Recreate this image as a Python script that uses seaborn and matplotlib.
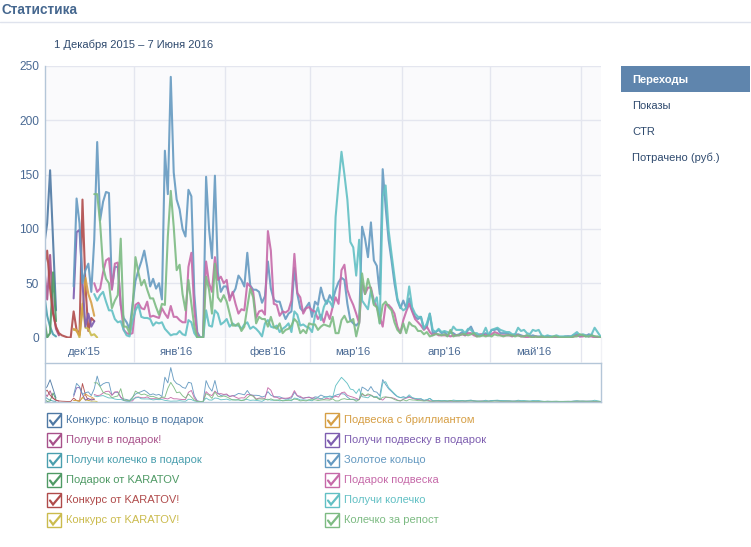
"""
Ad statistics dashboard: daily clicks per campaign, with overview strip and legend.
"""

import pandas as pd
import matplotlib
matplotlib.use("Agg")
import matplotlib.pyplot as plt
import seaborn as sns
from matplotlib.patches import Rectangle

# first value of each list falls on the day given in SERIES (0 = 1 Dec 2015)
KOLTSO = [85, 105, 154, 90, 25]
POLUCHI_PODAROK = [65, 35, 76, 25, 8, 2]
KOLECHKO_PODAROK = [40, 20, 10, 3, 1]
KARATOV_GIFT = [18, 0, 4, 60, 15]
KARATOV_RED = [65, 80, 45, 22, 10, 4, 2, 1, 0, 0, 24, 7, 3, 127, 48, 6, 18, 15]
KARATOV_YELLOW = [7, 7, 0, 31, 9, 8, 2, 3, 0]
PODVESKA_BRILL = [8, 6, 2, 25, 55, 40, 32, 20]
PODVESKA_GIFT = [36, 97, 99, 50, 10, 22, 10, 15]

ZOLOTOE = [
    47, 128, 105, 50, 62, 68, 42, 90, 180, 108,
    125, 134, 133, 45, 65, 65, 30, 18, 14, 8,
    30, 52, 62, 70, 80, 65, 47, 54, 45, 50,
    35, 172, 132, 240, 152, 127, 118, 100, 93, 136,
    130, 40, 5, 0, 0, 148, 100, 73, 149, 60,
    42, 47, 47, 37, 40, 45, 57, 53, 47, 78,
    48, 44, 44, 42, 32, 38, 70, 45, 35, 33,
    33, 24, 17, 22, 24, 64, 40, 27, 24, 28,
    32, 19, 33, 30, 46, 36, 31, 39, 34, 44,
    51, 55, 53, 31, 16, 13, 11, 14, 102, 91,
    74, 106, 71, 66, 40, 155, 120, 90, 71, 50,
    34, 27, 34, 27, 36, 25, 19, 17, 19, 8,
    10, 22, 4, 5, 7, 4, 5, 2, 5, 4,
    2, 3, 5, 2, 7, 10, 4, 2, 2, 2,
    4, 2, 7, 7, 8, 4, 4, 4, 3, 2,
    2, 3, 2, 1, 2, 1, 2, 1, 1, 1,
    0, 1, 1, 0, 0, 0, 0, 1, 1, 1,
    2, 3, 1, 2, 1, 3, 2, 1, 0, 0,
]
PODAROK_PODVESKA = [
    50, 42, 45,
    60, 71, 73, 44, 68, 69, 30, 7, 4, 3,
    4, 30, 32, 27, 26, 33, 19, 20, 19, 18,
    27, 22, 18, 29, 19, 19, 16, 14, 14, 65,
    78, 25, 2, 0, 0, 70, 50, 42, 74, 53,
    56, 50, 53, 34, 42, 31, 22, 26, 25, 50,
    47, 42, 18, 24, 25, 21, 98, 80, 31, 30,
    20, 24, 23, 25, 34, 77, 41, 37, 22, 27,
    28, 25, 24, 17, 21, 14, 24, 17, 28, 37,
    31, 62, 67, 44, 36, 30, 22, 13, 50, 40,
    46, 46, 34, 28, 19, 10, 30, 30, 27, 22,
    10, 4, 16, 24, 31, 24, 17, 14, 11, 7,
    10, 5, 2, 4, 2, 2, 2, 2, 1, 2,
    2, 2, 3, 2, 4, 4, 2, 1, 3, 3,
    2, 2, 3, 5, 4, 2, 2, 2, 2, 1,
    3, 2, 1, 1, 0, 1, 0, 1, 0, 0,
    0, 1, 0, 0, 0, 0, 0, 0, 1, 0,
    1, 2, 1, 1, 2, 1, 1, 0, 0, 0,
]
POLUCHI_KOLECHKO = [
    40, 34, 39,
    42, 33, 25, 25, 17, 14, 15, 7, 2, 1,
    15, 25, 30, 19, 18, 18, 17, 11, 14, 13,
    14, 8, 5, 2, 3, 3, 6, 3, 2, 16,
    14, 4, 0, 0, 0, 25, 11, 10, 25, 22,
    12, 14, 17, 10, 13, 11, 11, 8, 12, 14,
    8, 10, 8, 5, 1, 13, 16, 10, 9, 11,
    5, 8, 10, 13, 5, 24, 21, 11, 12, 10,
    9, 5, 20, 28, 16, 28, 34, 33, 28, 111,
    142, 171, 150, 127, 88, 83, 57, 90, 34, 30,
    26, 44, 31, 37, 13, 130, 140, 99, 77, 56,
    36, 28, 25, 27, 47, 28, 22, 19, 19, 8,
    13, 22, 7, 5, 8, 5, 6, 5, 4, 10,
    7, 7, 7, 4, 8, 7, 4, 4, 2, 3,
    9, 2, 7, 8, 9, 7, 6, 5, 5, 3,
    3, 9, 6, 7, 4, 3, 7, 6, 7, 2,
    1, 2, 1, 1, 2, 1, 1, 1, 1, 1,
    3, 5, 2, 3, 2, 1, 3, 9, 5, 1,
]
KOLECHKO_REPOST = [
    132, 132, 105,
    65, 54, 50, 27, 34, 39, 91, 10, 10, 4,
    25, 74, 60, 48, 53, 44, 36, 36, 28, 21,
    31, 30, 93, 135, 102, 62, 67, 40, 25, 53,
    31, 10, 0, 0, 0, 56, 44, 22, 68, 37,
    33, 39, 33, 22, 11, 11, 13, 6, 10, 28,
    45, 37, 13, 19, 17, 17, 10, 19, 10, 8,
    13, 4, 7, 8, 11, 17, 14, 4, 7, 4,
    13, 12, 12, 7, 10, 12, 11, 10, 19, 4,
    4, 16, 20, 14, 15, 17, 1, 13, 59, 40,
    54, 44, 30, 28, 13, 30, 33, 28, 25, 14,
    7, 4, 13, 4, 14, 11, 10, 6, 6, 3,
    5, 1, 2, 3, 3, 2, 3, 1, 7, 1,
    2, 2, 3, 3, 2, 3, 4, 1, 1, 2,
    1, 2, 1, 3, 2, 2, 1, 2, 2, 2,
    1, 2, 1, 1, 2, 1, 0, 1, 0, 1,
    0, 0, 0, 1, 1, 0, 0, 0, 0, 0,
    1, 1, 3, 2, 1, 1, 2, 1, 1, 0,
]

# name, first day, values, colour
SERIES = [
    ("Конкурс: кольцо в подарок", 0, KOLTSO, "#4f79a4"),
    ("Получи в подарок!", 0, POLUCHI_PODAROK, "#a8518a"),
    ("Получи колечко в подарок", 0, KOLECHKO_PODAROK, "#4a9fae"),
    ("Подарок от KARATOV", 0, KARATOV_GIFT, "#4f9a65"),
    ("Конкурс от KARATOV!", 0, KARATOV_RED, "#b04b4b"),
    ("Конкурс от KARATOV! ", 10, KARATOV_YELLOW, "#cbbb4d"),
    ("Подвеска с бриллиантом", 10, PODVESKA_BRILL, "#d69f45"),
    ("Получи подвеску в подарок", 10, PODVESKA_GIFT, "#7e5eb0"),
    ("Золотое кольцо", 10, ZOLOTOE, "#659ac1"),
    ("Подарок подвеска", 17, PODAROK_PODVESKA, "#c66aa9"),
    ("Получи колечко", 17, POLUCHI_KOLECHKO, "#62c0c4"),
    ("Колечко за репост", 17, KOLECHKO_REPOST, "#7dbb83"),
]

MONTH_EDGES = [30.4, 61.4, 90.4, 121.4, 151.4, 182.4]
MONTH_LABELS = ["дек'15", "янв'16", "фев'16", "мар'16", "апр'16", "май'16"]
MONTH_CENTERS = [13.5, 45, 76, 105, 136, 166.5]
Y_TICKS = [0, 50, 100, 150, 200, 250]
MENU_ITEMS = ["Переходы", "Показы", "CTR", "Потрачено (руб.)"]

W, H = 751, 547
GRID = "#e4e6ef"
AXIS = "#b4c6d8"
TICK_TEXT = "#4a6a94"
DARK_TEXT = "#2f4a6e"
FS = 8.0

sns.set_theme(style="white")
plt.rcParams["font.family"] = ["Liberation Sans", "DejaVu Sans"]

rows = []
for name, start, values, _ in SERIES:
    assert start + len(values) <= 190, name
    for i, v in enumerate(values):
        rows.append({"day": start + i, "clicks": v, "name": name})
df = pd.DataFrame(rows)
palette = {name: color for name, _, _, color in SERIES}
order = [s[0] for s in SERIES]


def axes_px(fig, left, top, right, bottom):
    return fig.add_axes([left / W, 1 - bottom / H, (right - left) / W, (bottom - top) / H])


fig = plt.figure(figsize=(W / 100, H / 100), dpi=100, facecolor="white")

# full-figure layer in pixels for the page furniture
page = axes_px(fig, 0, 0, W, H)
page.set_xlim(0, W)
page.set_ylim(H, 0)
page.axis("off")

# main chart
ax = axes_px(fig, 44.5, 66, 600.5, 337.5)
ax.set_facecolor("#fafafc")
sns.lineplot(data=df, x="day", y="clicks", hue="name", hue_order=order, palette=palette,
             estimator=None, errorbar=None, sort=False, linewidth=1.5, alpha=0.9,
             legend=False, ax=ax)
ax.set_xlim(0.1, 189)
ax.set_ylim(0, 250)
ax.set_xlabel("")
ax.set_ylabel("")
ax.set_yticks(Y_TICKS)
ax.set_yticklabels([str(t) for t in Y_TICKS], fontsize=FS + 0.6, color=TICK_TEXT)
ax.set_xticks(MONTH_EDGES)
ax.set_xticklabels([])
ax.set_xticks(MONTH_CENTERS, minor=True)
ax.set_xticklabels(MONTH_LABELS, minor=True, fontsize=FS + 0.2, color=TICK_TEXT)
ax.tick_params(axis="x", which="major", length=17.5, width=0.9, color=GRID, bottom=True)
ax.tick_params(axis="x", which="minor", length=0, pad=6.5, bottom=False)
ax.tick_params(axis="y", length=0, pad=4)
ax.grid(True, axis="both", which="major", color=GRID, linewidth=1.0)
ax.set_axisbelow(True)
ax.spines[["top", "right", "bottom"]].set_visible(False)
ax.spines["left"].set_color(AXIS)
ax.spines["left"].set_linewidth(1.0)
page.plot([44.5, 44.5], [337, 362], color=AXIS, lw=1.0)
page.plot([600.5, 600.5], [337, 362], color="#f0f1f5", lw=1.0)

# overview strip
mini = axes_px(fig, 44.5, 362.5, 600.5, 401.5)
sns.lineplot(data=df, x="day", y="clicks", hue="name", hue_order=order, palette=palette,
             estimator=None, errorbar=None, sort=False, linewidth=0.65, alpha=0.95,
             legend=False, ax=mini)
mini.set_xlim(0.1, 189)
mini.set_ylim(0, 276)
mini.set_xlabel("")
mini.set_ylabel("")
mini.set_xticks([])
mini.set_yticks([])
mini.set_facecolor("white")
for side in mini.spines.values():
    side.set_color(AXIS)
    side.set_linewidth(1.0)

# header
page.text(1, 10, "Статистика", fontsize=9.8, fontweight="bold", color="#45678f", va="center")
page.plot([0, W], [21.5, 21.5], color="#dfe3ed", lw=1.0)
page.text(54, 48, "1 Декабря 2015 – 7 Июня 2016", fontsize=FS, color=DARK_TEXT, va="baseline")

# side menu
page.add_patch(Rectangle((621, 66), 129, 26, facecolor="#5f85ad", edgecolor="none"))
for k, item in enumerate(MENU_ITEMS):
    active = k == 0
    page.text(632, 83 + 26 * k, item, fontsize=FS, va="baseline",
              color="white" if active else DARK_TEXT,
              fontweight="bold" if active else "normal")

# legend: two columns of six ticked boxes
for k, (name, _, _, color) in enumerate(SERIES):
    col, row = k // 6, k % 6
    bx = 47 + col * 278
    by = 413 + row * 20
    page.add_patch(Rectangle((bx, by), 13.5, 13.5, facecolor="white", edgecolor=color, lw=1.0))
    page.plot([bx + 3, bx + 6, bx + 14], [by + 7.5, by + 11.5, by + 2], color=color, lw=1.6,
              solid_joinstyle="miter")
    page.text(66 + col * 278.3, by + 10, name.strip(), fontsize=FS, color=color, va="baseline")

fig.savefig("out.png", dpi=100, facecolor="white")
